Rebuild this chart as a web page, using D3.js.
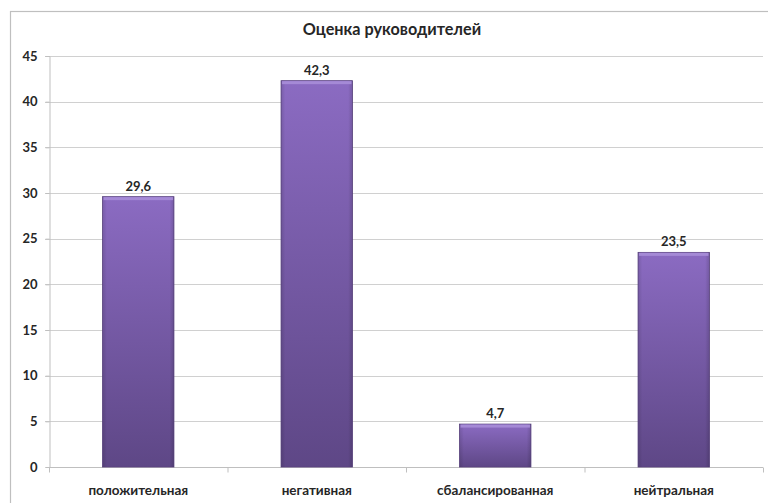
<!DOCTYPE html>
<html><head><meta charset="utf-8">
<script src="https://cdn.jsdelivr.net/npm/d3@7"></script>
<style>body{margin:0;background:#fff}svg{display:block}text{font-family:Lato,"Open Sans",sans-serif;font-weight:bold;fill:#262626}</style>
</head><body><svg id="c" width="768" height="503"></svg>
<script>
const title = "Оценка руководителей";
const categories = ["положительная","негативная","сбалансированная","нейтральная"];
const values = [29.6, 42.3, 4.7, 23.5];
const valueLabels = ["29,6","42,3","4,7","23,5"];
const yTicks = [0,5,10,15,20,25,30,35,40,45];

const svg = d3.select("#c");
const L = 49, R = 763, T = 56, B = 467;
svg.append("rect").attr("x",10.5).attr("y",11.5).attr("width",800).attr("height",600)
  .attr("fill","none").attr("stroke","#bfbfbf").attr("stroke-width",1.2);

const x = d3.scaleBand().domain(categories).range([L,R]).paddingInner(0.6).paddingOuter(0.3);
const y = d3.scaleLinear().domain([0,45]).range([B,T]);

const defs = svg.append("defs");
const g1 = defs.append("linearGradient").attr("id","bg").attr("x1",0).attr("y1",0).attr("x2",0).attr("y2",1);
g1.append("stop").attr("offset","0%").attr("stop-color","#8b6bc2");
g1.append("stop").attr("offset","100%").attr("stop-color","#5e4786");
const g2 = defs.append("linearGradient").attr("id","hg").attr("x1",0).attr("y1",0).attr("x2",1).attr("y2",0);
g2.append("stop").attr("offset","0%").attr("stop-color","#000").attr("stop-opacity",0.12);
g2.append("stop").attr("offset","6%").attr("stop-color","#000").attr("stop-opacity",0);
g2.append("stop").attr("offset","94%").attr("stop-color","#000").attr("stop-opacity",0);
g2.append("stop").attr("offset","100%").attr("stop-color","#000").attr("stop-opacity",0.15);

svg.append("g").selectAll("line").data(yTicks.filter(d=>d>0)).join("line")
  .attr("x1",L-4).attr("x2",R).attr("y1",d=>Math.round(y(d))+0.5).attr("y2",d=>Math.round(y(d))+0.5)
  .attr("stroke","#d0d0d0").attr("stroke-width",1);

const ya = svg.append("g").attr("transform",`translate(${L+0.5},0)`)
  .call(d3.axisLeft(y).tickValues(yTicks).tickSize(4).tickPadding(8));
ya.select(".domain").attr("stroke","#bfbfbf");
ya.selectAll(".tick line").attr("stroke","#bfbfbf");
ya.selectAll(".tick text").attr("font-size",13).attr("fill","#262626")
  .style("font-family","Lato,sans-serif").style("font-weight","bold");

const xa = svg.append("g").attr("transform",`translate(0,${B+0.5})`);
xa.append("line").attr("x1",L).attr("x2",R).attr("stroke","#bfbfbf");
const bounds = d3.range(categories.length+1).map(i=>L+(R-L)*i/categories.length);
xa.selectAll("line.t").data(bounds).join("line").attr("class","t")
  .attr("x1",d=>d+0.5).attr("x2",d=>d+0.5).attr("y1",0).attr("y2",5).attr("stroke","#bfbfbf");
xa.selectAll("text").data(categories).join("text")
  .attr("x",d=>x(d)+x.bandwidth()/2).attr("y",27).attr("text-anchor","middle")
  .attr("font-size",13.5).text(d=>d);

const bars = svg.append("g").selectAll("g").data(values).join("g");
bars.append("rect").attr("x",(d,i)=>x(categories[i])).attr("y",d=>y(d))
  .attr("width",x.bandwidth()).attr("height",d=>B-y(d)).attr("fill","url(#bg)")
  .attr("stroke","#5a4380").attr("stroke-width",0.8);
bars.append("rect").attr("x",(d,i)=>x(categories[i])).attr("y",d=>y(d))
  .attr("width",x.bandwidth()).attr("height",d=>B-y(d)).attr("fill","url(#hg)");
bars.append("rect").attr("x",(d,i)=>x(categories[i])+1).attr("y",d=>y(d)+0.5)
  .attr("width",x.bandwidth()-2).attr("height",3).attr("fill","#a58ad6");

svg.append("g").selectAll("text").data(values).join("text")
  .attr("x",(d,i)=>x(categories[i])+x.bandwidth()/2).attr("y",d=>y(d)-6)
  .attr("text-anchor","middle").attr("font-size",13).text((d,i)=>valueLabels[i]);

svg.append("text").attr("x",392).attr("y",35).attr("text-anchor","middle")
  .attr("font-size",16.2).text(title);
</script></body></html>
